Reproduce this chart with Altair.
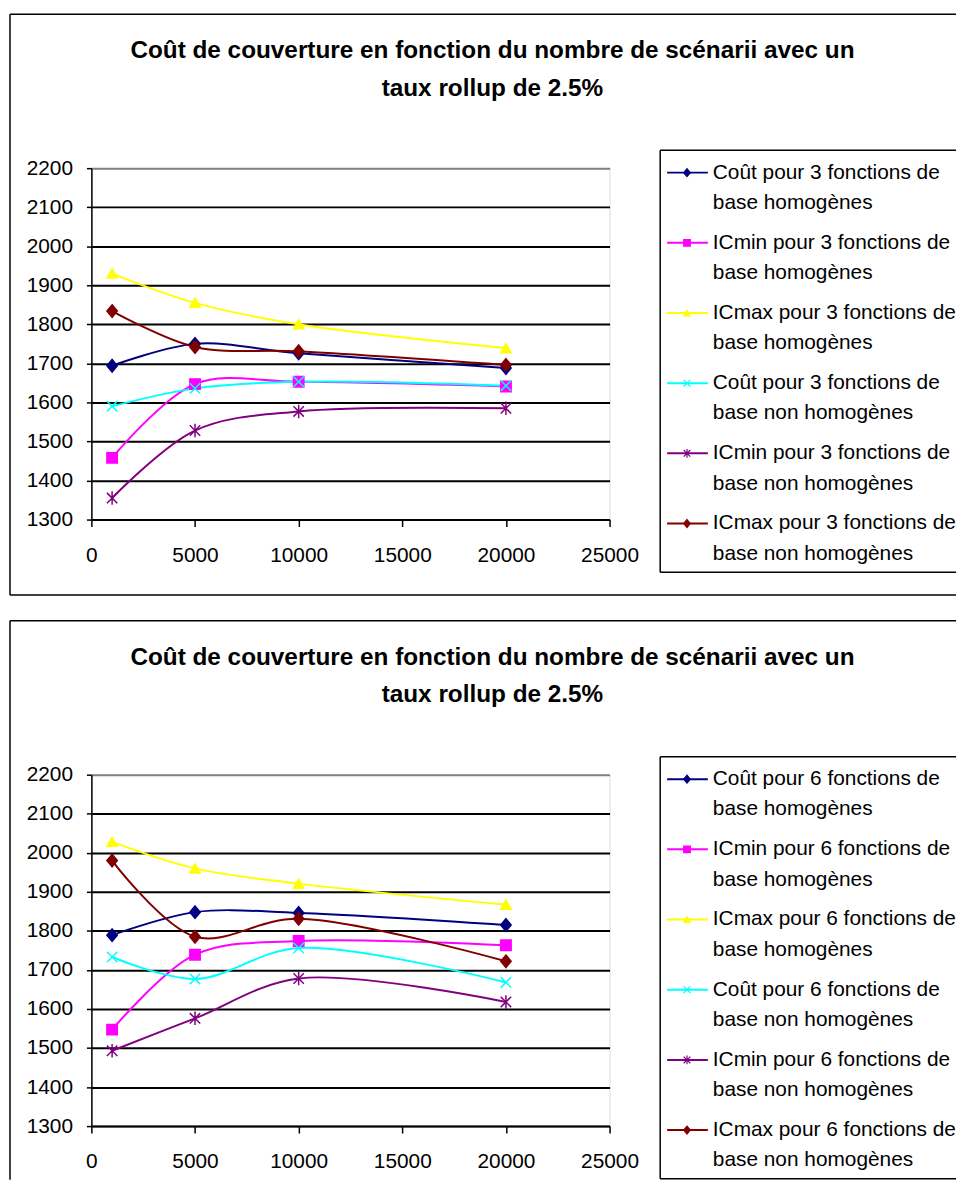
import altair as alt
import pandas as pd

FONT = "Liberation Sans"

# ---------------- data ----------------
x_scenarios = [1000, 5000, 10000, 20000]

title_line1 = "Coût de couverture en fonction du nombre de scénarii  avec un"
title_line2 = "taux rollup de 2.5%"

series_keys = ["cout_hom", "icmin_hom", "icmax_hom", "cout_nonhom", "icmin_nonhom", "icmax_nonhom"]
series_colors = ["#000080", "#FF00FF", "#FFFF00", "#00FFFF", "#800080", "#800000"]
X_PATH = "M-1,-1L1,1M-1,1L1,-1"
STAR_PATH = "M-1,-1L1,1M-1,1L1,-1M0,-1.3L0,1.3"
DIAMOND_PATH = "M0,-1.2L1,0L0,1.2L-1,0Z"
series_shapes = [DIAMOND_PATH, "square", "triangle-up", X_PATH, STAR_PATH, DIAMOND_PATH]

# panel 1 : 3 fonctions de base
cout_hom_3 = [1694, 1750, 1726, 1688]
icmin_hom_3 = [1458, 1647, 1653, 1641]
icmax_hom_3 = [1930, 1855, 1800, 1739]
cout_nonhom_3 = [1590, 1636, 1653, 1643]
icmin_nonhom_3 = [1355, 1528, 1577, 1585]
icmax_nonhom_3 = [1834, 1742, 1731, 1696]

# panel 2 : 6 fonctions de base
cout_hom_6 = [1789, 1848, 1846, 1815]
icmin_hom_6 = [1547, 1739, 1774, 1763]
icmax_hom_6 = [2028, 1960, 1921, 1867]
cout_nonhom_6 = [1733, 1677, 1756, 1668]
icmin_nonhom_6 = [1493, 1576, 1678, 1618]
icmax_nonhom_6 = [1980, 1785, 1831, 1722]

legend_line1_3 = [
    "Coût pour 3 fonctions de",
    "ICmin pour 3 fonctions de",
    "ICmax pour 3 fonctions de",
    "Coût pour 3 fonctions de",
    "ICmin pour 3 fonctions de",
    "ICmax pour 3 fonctions de",
]
legend_line1_6 = [
    "Coût  pour 6 fonctions de",
    "ICmin pour 6 fonctions de",
    "ICmax pour 6 fonctions de",
    "Coût pour 6 fonctions de",
    "ICmin pour 6 fonctions de",
    "ICmax pour 6 fonctions de",
]
legend_line2 = [
    "base homogènes",
    "base homogènes",
    "base homogènes",
    "base non homogènes",
    "base non homogènes",
    "base non homogènes",
]

y_ticks = [1300, 1400, 1500, 1600, 1700, 1800, 1900, 2000, 2100, 2200]
x_ticks = [0, 5000, 10000, 15000, 20000, 25000]

PW, PH = 522, 354


def panel(values, line1, line2):
    rows = []
    for key, vals in zip(series_keys, values):
        for n, v in zip(x_scenarios, vals):
            rows.append({"serie": key, "n": n, "cout": v})
    df = pd.DataFrame(rows)
    leg = pd.DataFrame({"serie": series_keys, "idx": list(range(len(series_keys))),
                        "l1": line1, "l2": line2})
    one = pd.DataFrame({"k": [0]})

    color_scale = alt.Scale(domain=series_keys, range=series_colors)
    shape_scale = alt.Scale(domain=series_keys, range=series_shapes)

    x_enc = alt.X("n:Q", title=None,
                  scale=alt.Scale(domain=[0, 25000], nice=False, zero=False),
                  axis=alt.Axis(values=x_ticks, format="d", labelFont=FONT, labelFontSize=21,
                                labelColor="black", tickColor="black", tickSize=7, tickWidth=1.5,
                                domainColor="black", domainWidth=1.5, labelPadding=18,
                                grid=False, labelFlush=False))
    y_axis = alt.Axis(values=y_ticks, format="d", labelFont=FONT, labelFontSize=21,
                      labelColor="black", tickColor="black", tickSize=5, tickWidth=1.5,
                      domainColor="black", domainWidth=1.5, labelPadding=14,
                      grid=True, gridWidth=2,
                      gridColor={"condition": {"test": "datum.value === 2200", "value": "#808080"},
                                 "value": "#000000"},
                      labelFlush=False)
    y_scale = alt.Scale(domain=[1300, 2200], nice=False, zero=False)

    lines = alt.Chart(df).mark_line(interpolate="catmull-rom", strokeWidth=2).encode(
        x=x_enc,
        y=alt.Y("cout:Q", title=None, scale=y_scale, axis=y_axis),
        color=alt.Color("serie:N", scale=color_scale, legend=None),
    )
    points = alt.Chart(df).mark_point(filled=True, size=110, strokeWidth=1.5, opacity=1).encode(
        x=x_enc,
        y=alt.Y("cout:Q", title=None, scale=y_scale, axis=None),
        color=alt.Color("serie:N", scale=color_scale, legend=None),
        stroke=alt.Stroke("serie:N", scale=color_scale, legend=None),
        shape=alt.Shape("serie:N", scale=shape_scale, legend=None),
    )

    # legend (drawn with its own index scale)
    leg_top, pitch = 4.5, 70.7
    leg_y = alt.Y("idx:Q", axis=None,
                  scale=alt.Scale(domain=[0, 5], range=[leg_top, leg_top + 5 * pitch], nice=False, zero=False))
    leg_rule = alt.Chart(leg).mark_rule(strokeWidth=2).encode(
        x=alt.value(580), x2=alt.value(621), y=leg_y,
        color=alt.Color("serie:N", scale=color_scale, legend=None),
    )
    leg_pt = alt.Chart(leg).mark_point(filled=True, size=45, strokeWidth=1.2, opacity=1).encode(
        x=alt.value(600), y=leg_y,
        color=alt.Color("serie:N", scale=color_scale, legend=None),
        stroke=alt.Stroke("serie:N", scale=color_scale, legend=None),
        shape=alt.Shape("serie:N", scale=shape_scale, legend=None),
    )
    leg_t1 = alt.Chart(leg).mark_text(align="left", baseline="middle", font=FONT, fontSize=21,
                                      color="black").encode(x=alt.value(626), y=leg_y, text="l1:N")
    leg_t2 = alt.Chart(leg).mark_text(align="left", baseline="middle", font=FONT, fontSize=21,
                                      color="black", dy=30.5).encode(x=alt.value(626), y=leg_y, text="l2:N")

    # legend box (left, top, bottom edges; right side runs off the page)
    RIGHT = 871
    box = [
        alt.Chart(one).mark_rule(color="black", strokeWidth=1.5).encode(
            x=alt.value(573), x2=alt.value(RIGHT), y=alt.value(-18)),
        alt.Chart(one).mark_rule(color="black", strokeWidth=1.5).encode(
            x=alt.value(573), x2=alt.value(RIGHT), y=alt.value(407)),
        alt.Chart(one).mark_rule(color="black", strokeWidth=1.5).encode(
            x=alt.value(573), y=alt.value(-18), y2=alt.value(407)),
    ]

    titles = [
        alt.Chart(one).mark_text(font=FONT, fontSize=24.5, fontWeight="bold", align="center",
                                 baseline="middle", color="black").encode(
            x=alt.value(404), y=alt.value(-118), text=alt.value(title_line1)),
        alt.Chart(one).mark_text(font=FONT, fontSize=24.5, fontWeight="bold", align="center",
                                 baseline="middle", color="black").encode(
            x=alt.value(404), y=alt.value(-80), text=alt.value(title_line2)),
    ]
    return lines, points, [leg_rule, leg_pt, leg_t1, leg_t2], box, titles, one, RIGHT


def build(values, line1, line2, bottom_edge):
    lines, points, legend_layers, box, titles, one, RIGHT = panel(values, line1, line2)
    frame = [
        alt.Chart(one).mark_rule(color="black", strokeWidth=1.5).encode(
            x=alt.value(-82), x2=alt.value(RIGHT), y=alt.value(-155)),
    ]
    if bottom_edge is not None:
        frame.append(alt.Chart(one).mark_rule(color="black", strokeWidth=1.5).encode(
            x=alt.value(-82), x2=alt.value(RIGHT), y=alt.value(bottom_edge)))
        frame.append(alt.Chart(one).mark_rule(color="black", strokeWidth=1.5).encode(
            x=alt.value(-82), y=alt.value(-155), y2=alt.value(bottom_edge)))
    else:
        frame.append(alt.Chart(one).mark_rule(color="black", strokeWidth=1.5).encode(
            x=alt.value(-82), y=alt.value(-155), y2=alt.value(408)))
    return alt.layer(*frame, *titles, lines, points, *box, *legend_layers).resolve_scale(
        y="independent").properties(width=PW, height=PH)


top = build([cout_hom_3, icmin_hom_3, icmax_hom_3, cout_nonhom_3, icmin_nonhom_3, icmax_nonhom_3],
            legend_line1_3, legend_line2, 430)
bottom = build([cout_hom_6, icmin_hom_6, icmax_hom_6, cout_nonhom_6, icmin_nonhom_6, icmax_nonhom_6],
               legend_line1_6, legend_line2, None)

chart = alt.vconcat(top, bottom, spacing=22).properties(
    padding=0, background="white"
).configure_view(
    fill="#C0C0C0", stroke="#808080", strokeWidth=1
).configure(font=FONT)

chart.save("out.html", embed_options={"renderer": "svg", "actions": False})
